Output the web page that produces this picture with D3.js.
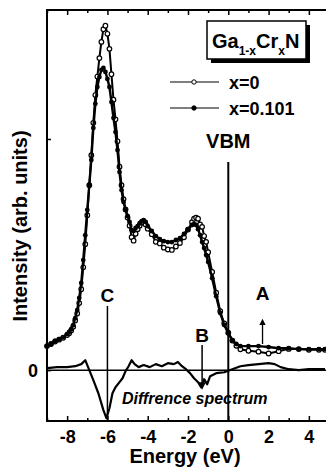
<!DOCTYPE html>
<html>
<head>
<meta charset="utf-8">
<script src="https://cdn.jsdelivr.net/npm/d3@7"></script>
<style>
  html, body { margin: 0; padding: 0; background: #fff; }
  svg { display: block; }
  text { font-family: "Liberation Sans", Arial, Helvetica, sans-serif; font-weight: bold; fill: #000; }
</style>
</head>
<body>
<svg id="chart" width="326" height="475"></svg>
<script>
// photoemission spectra of Ga(1-x)Cr(x)N
const energy = [-9.0,-8.8,-8.6,-8.4,-8.2,-8.0,-7.9,-7.8,-7.7,-7.6,-7.5,-7.4,-7.3,-7.2,-7.1,-7.0,-6.9,-6.8,-6.7,-6.6,
  -6.5,-6.4,-6.3,-6.2,-6.1,-6.0,-5.9,-5.8,-5.7,-5.6,-5.5,-5.4,-5.3,-5.2,-5.1,-5.0,-4.9,-4.8,-4.7,-4.6,
  -4.5,-4.4,-4.3,-4.2,-4.1,-4.0,-3.8,-3.6,-3.4,-3.2,-3.0,-2.8,-2.6,-2.4,-2.2,-2.0,-1.8,-1.7,-1.6,-1.5,
  -1.4,-1.3,-1.2,-1.1,-1.0,-0.8,-0.6,-0.4,-0.2,0.0,0.2,0.4,0.6,1.0,1.5,2.0,2.5,3.0,3.5,4.0,4.5,4.8];

// x = 0 (open circles)
const pureGaN = [1.04,1.13,1.24,1.32,1.40,1.52,1.60,1.72,1.88,2.15,2.45,2.90,3.50,4.45,5.45,6.70,8.00,9.30,10.70,11.90,
  12.70,13.50,14.20,14.75,14.90,14.55,13.90,12.80,11.70,10.85,9.90,8.80,8.00,7.40,6.95,6.60,6.25,5.75,5.60,5.90,
  6.10,6.25,6.38,6.40,6.30,6.12,5.88,5.55,5.48,5.30,5.22,5.20,5.35,5.50,5.75,6.08,6.40,6.55,6.60,6.55,
  6.30,6.20,5.80,5.55,5.10,4.25,3.35,2.55,2.02,1.62,1.28,1.05,0.90,0.84,0.80,0.72,0.82,0.92,0.91,0.88,0.88,0.88];

// x = 0.101 (filled circles)
const crDoped = [1.04,1.13,1.26,1.34,1.43,1.56,1.65,1.77,1.95,2.25,2.60,3.12,3.77,4.76,5.84,6.93,8.01,9.09,10.48,11.52,
  12.25,12.68,12.99,13.07,12.90,12.60,12.25,11.60,10.91,10.30,9.52,8.57,7.79,7.27,6.93,6.67,6.41,6.06,6.02,6.15,
  6.23,6.36,6.45,6.49,6.41,6.23,6.02,5.80,5.67,5.58,5.54,5.54,5.63,5.71,5.89,6.10,6.28,6.32,6.28,6.10,
  5.84,5.54,5.28,4.98,4.68,3.98,3.20,2.47,1.95,1.60,1.30,1.13,1.04,1.04,1.04,1.00,0.95,0.95,0.91,0.91,0.91,0.91];

// difference spectrum
const diffEnergy = [-9.0,-8.5,-8.0,-7.6,-7.3,-7.1,-6.9,-6.7,-6.45,-6.2,-6.05,-5.9,-5.75,-5.6,-5.4,-5.25,-5.1,-4.95,-4.8,-4.65,
  -4.45,-4.2,-3.9,-3.6,-3.3,-3.0,-2.7,-2.5,-2.3,-2.1,-1.9,-1.7,-1.5,-1.35,-1.2,-1.05,-0.9,-0.6,-0.2,0.2,
  0.6,1.0,1.5,2.0,2.3,2.6,3.0,3.5,4.0,4.8];
const diffValue = [0.09,0.13,0.13,0.17,0.26,0.43,0.00,-0.43,-1.00,-1.73,-2.08,-1.65,-1.00,-0.74,-0.52,-0.35,-0.04,0.17,0.43,0.26,
  0.13,0.22,0.13,0.26,0.17,0.30,0.26,0.35,0.17,0.04,-0.13,-0.35,-0.52,-0.74,-0.39,-0.61,-0.26,-0.13,-0.09,0.04,
  0.17,0.22,0.26,0.30,0.26,0.13,0.04,0.00,0.04,0.04];

const xMajor = [-8, -6, -4, -2, 0, 2, 4];
const xMinor = [-9, -7, -5, -3, -1, 1, 3, 5];
const yTicks = [0, 10];

const svg = d3.select('#chart');
const x = d3.scaleLinear().domain([-9, 5]).range([47, 329]);
const y = d3.scaleLinear().domain([-2.2, 15.58]).range([421, 10]);

// axes (ticks point inward)
svg.append('g').attr('transform', 'translate(0,421)')
  .call(d3.axisBottom(x).tickValues(xMajor).tickSize(-5).tickPadding(9).tickFormat(d => d))
  .call(g => g.select('.domain').remove())
  .call(g => g.selectAll('text').attr('font-size', 18).attr('font-family', null))
  .call(g => g.selectAll('line').attr('stroke-width', 1.5));
svg.append('g').attr('transform', 'translate(0,421)')
  .call(d3.axisBottom(x).tickValues(xMinor).tickSize(-3).tickFormat(''))
  .call(g => g.select('.domain').remove())
  .call(g => g.selectAll('line').attr('stroke-width', 1.5));
svg.append('g').attr('transform', 'translate(0,10)')
  .call(d3.axisTop(x).tickValues(xMajor).tickSize(-5).tickFormat(''))
  .call(g => g.select('.domain').remove())
  .call(g => g.selectAll('line').attr('stroke-width', 1.5));
svg.append('g').attr('transform', 'translate(0,10)')
  .call(d3.axisTop(x).tickValues(xMinor).tickSize(-3).tickFormat(''))
  .call(g => g.select('.domain').remove())
  .call(g => g.selectAll('line').attr('stroke-width', 1.5));
svg.append('g').attr('transform', 'translate(47,0)')
  .call(d3.axisLeft(y).tickValues(yTicks).tickSize(-4).tickPadding(9).tickFormat(d => d === 0 ? '0' : ''))
  .call(g => g.select('.domain').remove())
  .call(g => g.selectAll('text').attr('font-size', 18).attr('font-family', null).attr('dy', '0.35em'))
  .call(g => g.selectAll('line').attr('stroke-width', 1.5));

// frame
svg.append('rect')
  .attr('x', x(-9)).attr('y', y(15.58))
  .attr('width', x(5) - x(-9)).attr('height', y(-2.2) - y(15.58))
  .attr('fill', 'none').attr('stroke', '#000').attr('stroke-width', 2);

// zero line of difference spectrum
svg.append('line')
  .attr('x1', x(-9)).attr('x2', x(5)).attr('y1', y(0)).attr('y2', y(0))
  .attr('stroke', '#000').attr('stroke-width', 1.5);

// VBM and C markers
svg.append('line')
  .attr('x1', x(0)).attr('x2', x(0)).attr('y1', 162).attr('y2', y(-2.2))
  .attr('stroke', '#000').attr('stroke-width', 2);
svg.append('text').attr('x', x(0)).attr('y', 148).attr('text-anchor', 'middle')
  .attr('font-size', 20).text('VBM');
svg.append('line')
  .attr('x1', x(-6)).attr('x2', x(-6)).attr('y1', 306).attr('y2', y(-2.2))
  .attr('stroke', '#000').attr('stroke-width', 1.5);
svg.append('text').attr('x', x(-6)).attr('y', 302).attr('text-anchor', 'middle')
  .attr('font-size', 19).text('C');

// B (down arrow) and A (up arrow)
svg.append('defs').append('marker')
  .attr('id', 'head').attr('viewBox', '0 0 10 10').attr('refX', 5).attr('refY', 5)
  .attr('markerWidth', 5).attr('markerHeight', 6).attr('orient', 'auto-start-reverse')
  .append('path').attr('d', 'M0,0 L10,5 L0,10 z').attr('fill', '#000');
svg.append('line')
  .attr('x1', x(-1.3)).attr('x2', x(-1.3)).attr('y1', 345).attr('y2', 386)
  .attr('stroke', '#000').attr('stroke-width', 1.5).attr('marker-end', 'url(#head)');
svg.append('text').attr('x', x(-1.3)).attr('y', 342).attr('text-anchor', 'middle')
  .attr('font-size', 19).text('B');
svg.append('line')
  .attr('x1', x(1.7)).attr('x2', x(1.7)).attr('y1', 344).attr('y2', 322)
  .attr('stroke', '#000').attr('stroke-width', 1.3).attr('marker-end', 'url(#head)');
svg.append('text').attr('x', x(1.7)).attr('y', 300).attr('text-anchor', 'middle')
  .attr('font-size', 19).text('A');

// spectra: open circles underneath, filled on top
const line = d3.line().x(d => x(d[0])).y(d => y(d[1]));
const openPts = d3.zip(energy, pureGaN);
const fillPts = d3.zip(energy, crDoped);

svg.append('path').datum(openPts).attr('d', line)
  .attr('fill', 'none').attr('stroke', '#000').attr('stroke-width', 2);
svg.append('g').selectAll('circle').data(openPts).join('circle')
  .attr('cx', d => x(d[0])).attr('cy', d => y(d[1])).attr('r', 2.3)
  .attr('fill', '#fff').attr('stroke', '#000').attr('stroke-width', 1.2);
svg.append('path').datum(fillPts).attr('d', line)
  .attr('fill', 'none').attr('stroke', '#000').attr('stroke-width', 2.4);
svg.append('g').selectAll('circle').data(fillPts).join('circle')
  .attr('cx', d => x(d[0])).attr('cy', d => y(d[1])).attr('r', 2.4)
  .attr('fill', '#000');

// difference spectrum
svg.append('path').datum(d3.zip(diffEnergy, diffValue)).attr('d', line)
  .attr('fill', 'none').attr('stroke', '#000').attr('stroke-width', 2.2).attr('stroke-linejoin', 'round');
svg.append('text').attr('x', 122).attr('y', 404)
  .attr('font-size', 16).attr('font-style', 'italic').text('Diffrence spectrum');

// title box with shadow
svg.append('rect').attr('x', 211).attr('y', 25).attr('width', 99).attr('height', 38).attr('fill', '#000');
svg.append('rect').attr('x', 207).attr('y', 21).attr('width', 99).attr('height', 38)
  .attr('fill', '#fff').attr('stroke', '#000').attr('stroke-width', 1.5);
const title = svg.append('text').attr('x', 212).attr('y', 48).attr('font-size', 20);
title.append('tspan').text('Ga');
title.append('tspan').attr('font-size', 12).attr('dy', 7).text('1-x');
title.append('tspan').attr('dy', -7).text('Cr');
title.append('tspan').attr('font-size', 12).attr('dy', 7).text('x');
title.append('tspan').attr('dy', -7).text('N');

// legend
const legendLabels = ['x=0', 'x=0.101'];
const legendY = [82, 108];
legendLabels.forEach((lab, i) => {
  svg.append('line').attr('x1', 170).attr('x2', 219).attr('y1', legendY[i]).attr('y2', legendY[i])
    .attr('stroke', '#000').attr('stroke-width', 1.2);
  svg.append('circle').attr('cx', 194).attr('cy', legendY[i]).attr('r', 2.2)
    .attr('fill', i === 0 ? '#fff' : '#000').attr('stroke', '#000').attr('stroke-width', 1);
  svg.append('text').attr('x', 229).attr('y', legendY[i] + 6.5).attr('font-size', 18).text(lab);
});

// axis titles
svg.append('text').attr('x', 185).attr('y', 463).attr('text-anchor', 'middle')
  .attr('font-size', 20).text('Energy (eV)');
svg.append('text').attr('transform', 'translate(27,226) rotate(-90)').attr('text-anchor', 'middle')
  .attr('font-size', 20).text('Intensity (arb. units)');
</script>
</body>
</html>
